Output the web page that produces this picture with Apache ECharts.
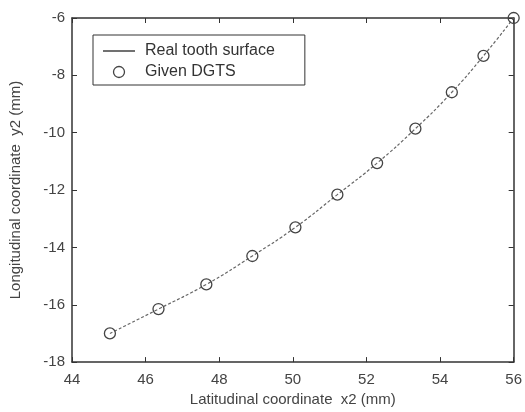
<!DOCTYPE html>
<html>
<head>
<meta charset="utf-8">
<script src="https://cdn.jsdelivr.net/npm/echarts@6/dist/echarts.min.js"></script>
<style>html,body{margin:0;padding:0;background:#fff;}#c{width:525px;height:412px;}</style>
</head>
<body>
<div id="c"></div>
<script>
var xValues = [45.03, 46.35, 47.65, 48.9, 50.07, 51.21, 52.29, 53.33, 54.32, 55.18, 56.0];
var yValues = [-17.0, -16.15, -15.29, -14.3, -13.3, -12.16, -11.06, -9.86, -8.59, -7.32, -6.0];
var xTicks = [44, 46, 48, 50, 52, 54, 56];
var yTicks = [-18, -16, -14, -12, -10, -8, -6];
var lineName = 'Real tooth surface';
var pointName = 'Given DGTS';
var xTitle = 'Latitudinal coordinate  x2 (mm)';
var yTitle = 'Longitudinal coordinate  y2 (mm)';

var pts = xValues.map(function (x, i) { return [x, yValues[i]]; });
var font = 'Liberation Sans, Arial, sans-serif';
var axisCol = '#333';
var txtCol = '#444';

function baseAxis(extra) {
  var a = {
    type: 'value',
    axisLine: { show: true, onZero: false, lineStyle: { color: axisCol, width: 1.5 } },
    axisTick: { show: true, inside: true, length: 5, lineStyle: { color: axisCol } },
    splitLine: { show: false },
    axisLabel: { show: true, color: txtCol, fontSize: 15, fontFamily: font }
  };
  for (var k in extra) a[k] = extra[k];
  return a;
}

var chart = echarts.init(document.getElementById('c'), null, { renderer: 'canvas' });
chart.setOption({
  animation: false,
  backgroundColor: '#fff',
  grid: { left: 69, right: 6, top: 18, bottom: 48 },
  xAxis: [
    baseAxis({ min: xTicks[0], max: xTicks[xTicks.length - 1], interval: 2, position: 'bottom',
      name: xTitle, nameLocation: 'middle', nameGap: 29,
      nameTextStyle: { color: txtCol, fontSize: 15, fontFamily: font },
      axisLabel: { show: true, color: txtCol, fontSize: 15, fontFamily: font, margin: 10 } }),
    baseAxis({ min: xTicks[0], max: xTicks[xTicks.length - 1], interval: 2, position: 'top',
      axisLabel: { show: false } })
  ],
  yAxis: [
    baseAxis({ min: yTicks[0], max: yTicks[yTicks.length - 1], interval: 2, position: 'left',
      name: yTitle, nameLocation: 'middle', nameGap: 49,
      nameTextStyle: { color: txtCol, fontSize: 15, fontFamily: font },
      axisLabel: { show: true, color: txtCol, fontSize: 15, fontFamily: font, margin: 7 } }),
    baseAxis({ min: yTicks[0], max: yTicks[yTicks.length - 1], interval: 2, position: 'right',
      axisTick: { show: true, inside: true, length: 5, lineStyle: { color: axisCol, width: 1 } },
      axisLabel: { show: false } })
  ],
  legend: {
    orient: 'vertical',
    left: 93, top: 35,
    width: 213,
    borderColor: '#333', borderWidth: 1,
    padding: [8, 30, 5, 10],
    itemWidth: 32, itemHeight: 11, itemGap: 5,
    textStyle: { color: '#333', fontSize: 16, fontFamily: font, padding: [0, 0, 0, 5] },
    data: [
      { name: lineName, icon: 'path://M0,50 L100,50 L100,54 L0,54 Z', itemStyle: { color: '#222' } },
      { name: pointName, icon: 'circle', itemStyle: { color: 'rgba(255,255,255,0)', borderColor: '#444', borderWidth: 1.3 } }
    ]
  },
  series: [
    {
      name: lineName, type: 'line', data: pts, smooth: true, symbol: 'none',
      xAxisIndex: 0, yAxisIndex: 0,
      lineStyle: { color: '#666', width: 1.2, type: [3, 2] },
      itemStyle: { color: '#222' }
    },
    {
      name: pointName, type: 'scatter', data: pts, symbol: 'circle', symbolSize: 11,
      xAxisIndex: 0, yAxisIndex: 0, z: 5,
      itemStyle: { color: 'rgba(255,255,255,0)', borderColor: '#444', borderWidth: 1.3, opacity: 1 }
    }
  ]
});
</script>
</body>
</html>
